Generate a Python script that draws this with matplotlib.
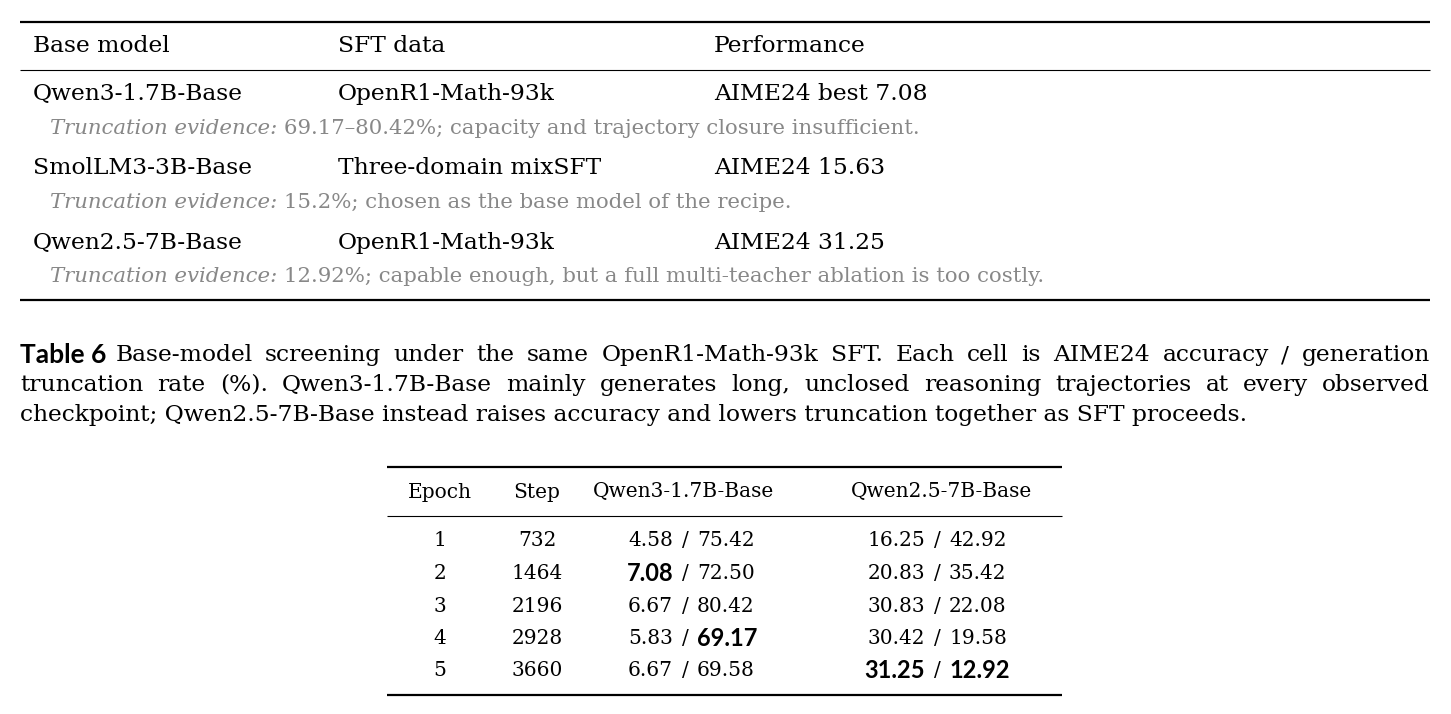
import matplotlib.pyplot as plt

# upper table
base_models = ["Qwen3-1.7B-Base", "SmolLM3-3B-Base", "Qwen2.5-7B-Base"]
sft_data = ["OpenR1-Math-93k", "Three-domain mixSFT", "OpenR1-Math-93k"]
performance = ["AIME24 best 7.08", "AIME24 15.63", "AIME24 31.25"]
evidence = [
    "69.17\u201380.42%; capacity and trajectory closure insufficient.",
    "15.2%; chosen as the base model of the recipe.",
    "12.92%; capable enough, but a full multi-teacher ablation is too costly.",
]

caption = [
    "Base-model screening under the same OpenR1-Math-93k SFT. Each cell is AIME24 accuracy / generation",
    "truncation rate (%).  Qwen3-1.7B-Base mainly generates long, unclosed reasoning trajectories at every observed",
    "checkpoint; Qwen2.5-7B-Base instead raises accuracy and lowers truncation together as SFT proceeds.",
]

# lower table
epochs = [1, 2, 3, 4, 5]
steps = [732, 1464, 2196, 2928, 3660]
qwen3_acc = ["4.58", "7.08", "6.67", "5.83", "6.67"]
qwen3_trunc = ["75.42", "72.50", "80.42", "69.17", "69.58"]
qwen25_acc = ["16.25", "20.83", "30.83", "30.42", "31.25"]
qwen25_trunc = ["42.92", "35.42", "22.08", "19.58", "12.92"]
qwen3_best = [(1, 0), (3, 1)]      # (row, part) shown bold
qwen25_best = [(4, 0), (4, 1)]

SERIF = "DejaVu Serif"
SANS = "Lato"
FS = 14.5      # lower table
FS_BIG = 16.8  # upper table and caption

fig = plt.figure(figsize=(14.51, 7.14), dpi=100)
ax = fig.add_axes([0, 0, 1, 1])
ax.set_xlim(0, 1451)
ax.set_ylim(714, 0)
ax.axis("off")
renderer = fig.canvas.get_renderer()


def txt(x, y, s, **kw):
    kw.setdefault("family", SERIF)
    kw.setdefault("fontsize", FS)
    kw.setdefault("va", "center")
    return ax.text(x, y, s, **kw)


def width(t):
    # width of a text artist in data (= pixel) units
    bb = t.get_window_extent(renderer)
    return bb.width


def rule(x0, x1, y, lw):
    ax.plot([x0, x1], [y, y], color="black", lw=lw, solid_capstyle="butt")


def justify(x0, x1, y, line, **kw):
    words = line.split()
    arts = [txt(0, y, w, **kw) for w in words]
    ws = [width(a) for a in arts]
    gap = (x1 - x0 - sum(ws)) / (len(words) - 1)
    x = x0
    for a, w in zip(arts, ws):
        a.set_x(x)
        x += w + gap


# upper table
rule(20, 1430, 22, 1.6)
rule(20, 1430, 70, 0.8)
rule(20, 1430, 300, 1.6)
for x, h in zip([33, 338, 714], ["Base model", "SFT data", "Performance"]):
    txt(x, 46, h, fontsize=FS_BIG)
for i in range(3):
    y = 94 + i * 74.5
    txt(33, y, base_models[i], fontsize=FS_BIG)
    txt(338, y, sft_data[i], fontsize=FS_BIG)
    txt(714, y, performance[i], fontsize=FS_BIG)
    lab = txt(50, y + 34, "Truncation evidence:", style="italic", color="#888888", fontsize=15.3)
    txt(50 + width(lab) + 7, y + 34, evidence[i], color="#888888", fontsize=15.3)

# caption
t6 = txt(20, 355, "Table 6", family=SANS, fontweight="bold", fontsize=19)
justify(20 + width(t6) + 9, 1430, 355, caption[0], fontsize=FS_BIG)
justify(20, 1430, 385, caption[1], fontsize=FS_BIG)
txt(20, 415, caption[2], fontsize=FS_BIG)

# lower table
rule(387, 1062, 467, 1.6)
rule(387, 1062, 516, 0.8)
rule(387, 1062, 695, 1.6)
for x, h in zip([440, 537, 683, 942], ["Epoch", "Step", "Qwen3-1.7B-Base", "Qwen2.5-7B-Base"]):
    txt(x, 492, h, ha="center")


def cell(xc, y, a, b, bold_a, bold_b):
    txt(xc, y, "/", ha="center")
    fa = dict(family=SANS, fontweight="bold", fontsize=17) if bold_a else {}
    fb = dict(family=SANS, fontweight="bold", fontsize=17) if bold_b else {}
    txt(xc - 12, y, a, ha="right", **fa)
    txt(xc + 12, y, b, ha="left", **fb)


for i in range(5):
    y = 541 + i * 32.5
    txt(440, y, str(epochs[i]), ha="center")
    txt(537, y, str(steps[i]), ha="center")
    cell(685, y, qwen3_acc[i], qwen3_trunc[i], (i, 0) in qwen3_best, (i, 1) in qwen3_best)
    cell(937, y, qwen25_acc[i], qwen25_trunc[i], (i, 0) in qwen25_best, (i, 1) in qwen25_best)

fig.savefig("out.png", dpi=100)
